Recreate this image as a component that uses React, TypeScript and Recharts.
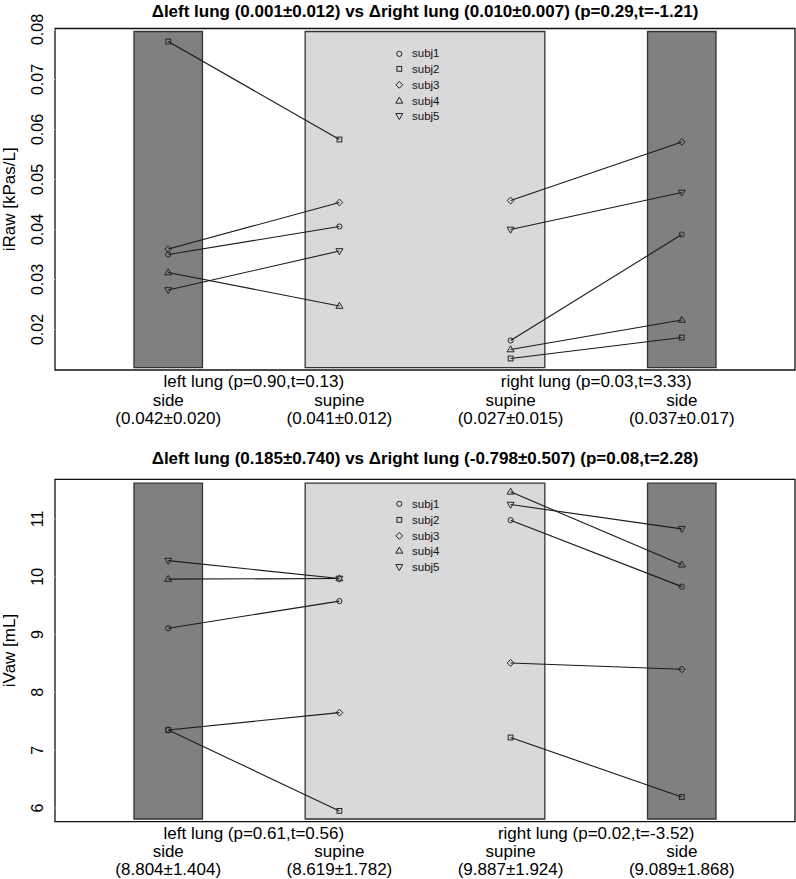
import React from "react";
import {
  ComposedChart,
  Scatter,
  XAxis,
  YAxis,
  ReferenceArea,
  Legend,
} from "recharts";

const FONT = "'Liberation Sans', Arial, Helvetica, sans-serif";

// x positions of the four conditions
const positions = [1, 2, 3, 4];
const positionNames = ["side", "supine", "supine", "side"];
const groupPositions = [1.5, 3.5];
const subjects = ["subj1", "subj2", "subj3", "subj4", "subj5"];
const markerKinds = ["circle", "square", "diamond", "triangle", "triangleDown"];

// iRaw [kPas/L], one value per subject
const iRawLeftSide = [0.035, 0.0776, 0.0361, 0.0314, 0.0279];
const iRawLeftSupine = [0.0406, 0.058, 0.0454, 0.0247, 0.0357];
const iRawRightSupine = [0.0178, 0.0142, 0.0458, 0.016, 0.04];
const iRawRightSide = [0.039, 0.0184, 0.0575, 0.0219, 0.0474];
const iRawStats = ["(0.042±0.020)", "(0.041±0.012)", "(0.027±0.015)", "(0.037±0.017)"];
const iRawGroups = ["left lung (p=0.90,t=0.13)", "right lung (p=0.03,t=3.33)"];
const iRawTitle = "Δleft lung (0.001±0.012) vs Δright lung (0.010±0.007) (p=0.29,t=-1.21)";
const iRawTicks = [0.02, 0.03, 0.04, 0.05, 0.06, 0.07, 0.08];

// iVaw [mL], one value per subject
const iVawLeftSide = [9.11, 7.35, 7.35, 9.96, 10.28];
const iVawLeftSupine = [9.58, 5.95, 7.65, 9.97, 9.97];
const iVawRightSupine = [10.98, 7.22, 8.51, 11.47, 11.25];
const iVawRightSide = [9.83, 6.19, 8.4, 10.21, 10.83];
const iVawStats = ["(8.804±1.404)", "(8.619±1.782)", "(9.887±1.924)", "(9.089±1.868)"];
const iVawGroups = ["left lung (p=0.61,t=0.56)", "right lung (p=0.02,t=-3.52)"];
const iVawTitle = "Δleft lung (0.185±0.740) vs Δright lung (-0.798±0.507) (p=0.08,t=2.28)";
const iVawTicks = [6, 7, 8, 9, 10, 11];

const X_DOMAIN: [number, number] = [0.3386, 4.6614];

function Marker({ cx, cy, kind, color = "#222" }: any) {
  if (cx == null || cy == null) return null;
  const common = { fill: "none", stroke: color, strokeWidth: 1 };
  switch (kind) {
    case "circle":
      return <circle cx={cx} cy={cy} r={2.6} {...common} />;
    case "square":
      return <rect x={cx - 2.4} y={cy - 2.4} width={4.8} height={4.8} {...common} />;
    case "diamond":
      return (
        <polygon
          points={`${cx},${cy - 3.4} ${cx + 3.4},${cy} ${cx},${cy + 3.4} ${cx - 3.4},${cy}`}
          {...common}
        />
      );
    case "triangle":
      return (
        <polygon
          points={`${cx},${cy - 3.7} ${cx + 3.5},${cy + 2.3} ${cx - 3.5},${cy + 2.3}`}
          {...common}
        />
      );
    default:
      return (
        <polygon
          points={`${cx},${cy + 3.7} ${cx + 3.5},${cy - 2.3} ${cx - 3.5},${cy - 2.3}`}
          {...common}
        />
      );
  }
}

function LegendBox() {
  return (
    <div style={{ fontFamily: FONT, fontSize: 11.5, color: "#111" }}>
      {subjects.map((s, i) => (
        <div key={s} style={{ height: 15.7, display: "flex", alignItems: "center" }}>
          <svg width={16} height={15.7} style={{ display: "block" }}>
            <Marker cx={7.3} cy={7.85} kind={markerKinds[i]} />
          </svg>
          <span style={{ marginLeft: 4 }}>{s}</span>
        </div>
      ))}
    </div>
  );
}

type PanelProps = {
  title: string;
  yLabel: string;
  leftSide: number[];
  leftSupine: number[];
  rightSupine: number[];
  rightSide: number[];
  stats: string[];
  groups: string[];
  ticks: number[];
  yDomain: [number, number];
  band: [number, number];
  height: number;
  top: number;
  xBottom: number;
  titleY: number;
  legendTop: number;
  tickDigits: number;
};

function Panel(p: PanelProps) {
  const XTick = ({ x, y, payload }: any) => {
    const v = payload.value;
    const g = groupPositions.indexOf(v);
    if (g >= 0) {
      return (
        <text x={x} y={y + 15} textAnchor="middle" fontSize={17} fontFamily={FONT} fill="#000">
          {p.groups[g]}
        </text>
      );
    }
    const i = positions.indexOf(v);
    return (
      <g>
        <text x={x} y={y + 33.5} textAnchor="middle" fontSize={17} fontFamily={FONT} fill="#000">
          {positionNames[i]}
        </text>
        <text x={x} y={y + 51.5} textAnchor="middle" fontSize={17} fontFamily={FONT} fill="#000">
          {p.stats[i]}
        </text>
      </g>
    );
  };

  const YTick = ({ y, payload }: any) => (
    <text
      x={43}
      y={y}
      transform={`rotate(-90 43 ${y})`}
      textAnchor="middle"
      fontSize={16}
      fontFamily={FONT}
      fill="#000"
    >
      {Number(payload.value).toFixed(p.tickDigits)}
    </text>
  );

  const plotBottom = p.height - p.xBottom - 60;
  const midY = (p.top + plotBottom) / 2;

  const pairs: { lung: string; a: number[]; b: number[]; xa: number; xb: number }[] = [
    { lung: "L", a: p.leftSide, b: p.leftSupine, xa: positions[0], xb: positions[1] },
    { lung: "R", a: p.rightSupine, b: p.rightSide, xa: positions[2], xb: positions[3] },
  ];

  return (
    <div style={{ position: "relative", width: 796, height: p.height }}>
      <div
        style={{
          position: "absolute",
          left: 55,
          width: 740,
          top: p.titleY,
          textAlign: "center",
          fontFamily: FONT,
          fontWeight: "bold",
          fontSize: 17,
          lineHeight: "20px",
          whiteSpace: "nowrap",
        }}
      >
        {p.title}
      </div>
      <ComposedChart
        width={796}
        height={p.height}
        margin={{ top: p.top, right: 1, bottom: p.xBottom, left: 0 }}
      >
        <XAxis
          type="number"
          dataKey="x"
          domain={X_DOMAIN}
          allowDataOverflow
          ticks={[positions[0], groupPositions[0], positions[1], positions[2], groupPositions[1], positions[3]]}
          interval={0}
          tick={<XTick />}
          tickLine={false}
          axisLine={false}
          tickSize={0}
          height={60}
        />
        <YAxis
          type="number"
          dataKey="y"
          domain={p.yDomain}
          allowDataOverflow
          ticks={p.ticks}
          interval={0}
          tick={<YTick />}
          tickLine={{ stroke: "#e6e6e6" }}
          tickSize={3}
          axisLine={false}
          width={55}
          label={{
            content: () => (
              <text
                x={15}
                y={midY}
                transform={`rotate(-90 15 ${midY})`}
                textAnchor="middle"
                fontSize={17}
                fontFamily={FONT}
                fill="#000"
              >
                {p.yLabel}
              </text>
            ),
          }}
        />
        <ReferenceArea
          x1={X_DOMAIN[0]}
          x2={X_DOMAIN[1]}
          y1={p.yDomain[0]}
          y2={p.yDomain[1]}
          fill="#fff"
          fillOpacity={1}
          stroke="#111"
          strokeWidth={1.3}
          ifOverflow="visible"
        />
        <ReferenceArea x1={0.8} x2={1.2} y1={p.band[0]} y2={p.band[1]} fill="#808080" fillOpacity={1} stroke="#333" strokeWidth={1.3} />
        <ReferenceArea x1={1.8} x2={3.2} y1={p.band[0]} y2={p.band[1]} fill="#d9d9d9" fillOpacity={1} stroke="#333" strokeWidth={1.3} />
        <ReferenceArea x1={3.8} x2={4.2} y1={p.band[0]} y2={p.band[1]} fill="#808080" fillOpacity={1} stroke="#333" strokeWidth={1.3} />
        {pairs.flatMap((pair) =>
          subjects.map((s, i) => (
            <Scatter
              key={pair.lung + s}
              name={s}
              data={[
                { x: pair.xa, y: pair.a[i] },
                { x: pair.xb, y: pair.b[i] },
              ]}
              dataKey="y"
              line={{ stroke: "#1a1a1a", strokeWidth: 1.1 }}
              shape={(props: any) => <Marker cx={props.cx} cy={props.cy} kind={markerKinds[i]} />}
              isAnimationActive={false}
              legendType="none"
            />
          ))
        )}
        <Legend
          layout="vertical"
          align="center"
          verticalAlign="middle"
          content={() => <LegendBox />}
          wrapperStyle={{ left: 392, top: p.legendTop, width: 80, height: 80 }}
        />
      </ComposedChart>
    </div>
  );
}

export default function App() {
  return (
    <div style={{ position: "absolute", left: 0, top: 0, width: 796, height: 879, background: "#fff" }}>
      <Panel
        title={iRawTitle}
        yLabel="iRaw [kPas/L]"
        leftSide={iRawLeftSide}
        leftSupine={iRawLeftSupine}
        rightSupine={iRawRightSupine}
        rightSide={iRawRightSide}
        stats={iRawStats}
        groups={iRawGroups}
        ticks={iRawTicks}
        yDomain={[0.0119, 0.0802]}
        band={[0.01236, 0.0796]}
        height={440}
        top={28.5}
        xBottom={10}
        titleY={2}
        legendTop={45.6}
        tickDigits={2}
      />
      <Panel
        title={iVawTitle}
        yLabel="iVaw [mL]"
        leftSide={iVawLeftSide}
        leftSupine={iVawLeftSupine}
        rightSupine={iVawRightSupine}
        rightSide={iVawRightSide}
        stats={iVawStats}
        groups={iVawGroups}
        ticks={iVawTicks}
        yDomain={[5.763, 11.687]}
        band={[5.81, 11.62]}
        height={439}
        top={39.3}
        xBottom={-2.7}
        titleY={8.5}
        legendTop={56.4}
        tickDigits={0}
      />
    </div>
  );
}
